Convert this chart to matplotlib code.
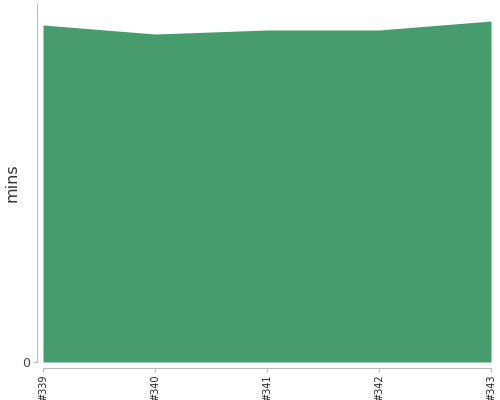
import matplotlib
matplotlib.use("Agg")
import matplotlib.pyplot as plt

builds = ["#339", "#340", "#341", "#342", "#343"]
mins = [33.7, 32.8, 33.2, 33.2, 34.1]

fig = plt.figure(figsize=(5, 4), dpi=100)
ax = fig.add_axes([0.086, 0.095, 0.896, 0.895])

# spines first: set_position resets the ticks
for side in ["top", "right"]:
    ax.spines[side].set_visible(False)
for side in ["left", "bottom"]:
    ax.spines[side].set_color("#bbbbbb")
    ax.spines[side].set_position(("outward", 4))

x = list(range(len(builds)))
ax.fill_between(x, 0, mins, color="#469c6d", linewidth=0)

ax.set_xlim(0, len(builds) - 1)
ax.set_ylim(0, 35.8)
ax.set_xticks(x)
ax.set_xticklabels(builds, rotation=90, fontsize=7, color="#222222")
ax.set_yticks([0])
ax.set_yticklabels(["0"], fontsize=9, color="#444444")
ax.set_ylabel("mins", fontsize=11.5, color="#333333")
ax.yaxis.set_label_coords(19 / 500, 217 / 400, transform=fig.transFigure)

ax.tick_params(colors="#bbbbbb", length=3, width=0.8)
ax.tick_params(axis="x", labelcolor="#222222", pad=2)
ax.tick_params(axis="y", labelcolor="#444444", pad=2)

fig.savefig("out.png", dpi=100)
